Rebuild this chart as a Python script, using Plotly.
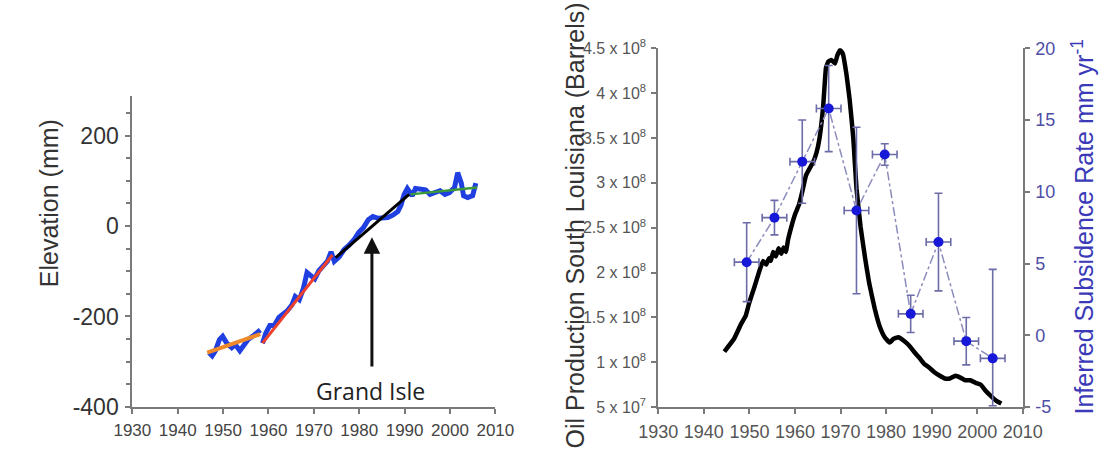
import plotly.graph_objects as go

# ---------------- Left panel: Grand Isle elevation ----------------
elev_years = [1946.9, 1947.6, 1948.3, 1949.2, 1949.9, 1950.8, 1951.9, 1952.7, 1953.7, 1954.4,
              1955.5, 1956.5, 1957.5, 1958.2, None,
              1958.7, 1959.4, 1960.3, 1961.3, 1962.3, 1963.2, 1964.1, 1965.2, 1965.9, 1966.8,
              1967.7, 1968.5, 1969.3, 1970.2, 1971.1, 1972.0, 1973.0, 1973.8, 1974.5, 1975.6,
              1976.6, 1977.7, 1978.8, 1979.9, 1980.9, 1982.0, 1983.0, 1984.2, 1985.2, 1986.3,
              1987.4, 1988.5, 1989.2, 1989.9, 1990.6, 1991.7, 1992.4, 1993.5, 1994.6, 1995.6,
              1996.7, 1997.8, 1998.9, 1999.9, 2001.0, 2001.7, 2002.5, 2003.0, 2003.9, 2005.0, 2005.7]
elev_mm = [-280, -287, -276, -251, -244, -259, -269, -262, -276, -266,
           -251, -244, -237, -230, None,
           -259, -237, -220, -220, -202, -196, -188, -174, -156, -163,
           -138, -103, -110, -117, -99, -89, -78, -57, -78, -68,
           -53, -43, -31, -14, -4, 14, 21, 17, 17, 19,
           24, 32, 46, 70, 83, 67, 83, 81, 80, 70,
           74, 78, 70, 74, 85, 118, 95, 67, 63, 67, 95]

fit1_years, fit1_mm = [1946.5, 1958.2], [-280, -239]   # orange
fit2_years, fit2_mm = [1958.7, 1974.1], [-259, -64]    # red
fit3_years, fit3_mm = [1974.8, 1991.0], [-70, 70]      # black
fit4_years, fit4_mm = [1991.3, 2006.0], [70, 85]       # green

elev_ticks = [-400, -200, 0, 200]
elev_ticktext = ["-400", "-200", "0", "200"]
year_ticks = [1930, 1940, 1950, 1960, 1970, 1980, 1990, 2000, 2010]

# ---------------- Right panel: oil production & subsidence ----------------
oil_years = [1944.5, 1946.6, 1948.1, 1949.2, 1950.0, 1951.1, 1952.2, 1953.0, 1953.7, 1954.3,
             1954.7, 1955.2, 1955.8, 1956.4, 1957.0, 1957.5, 1958.0, 1958.5, 1959.2, 1960.1,
             1960.9, 1961.6, 1962.4, 1963.1, 1963.9, 1964.7, 1965.4, 1966.2, 1966.8, 1967.3,
             1968.0, 1968.8, 1969.3, 1969.9, 1970.5, 1971.3, 1972.0, 1972.8, 1973.5, 1974.4,
             1975.4, 1976.3, 1977.5, 1978.6, 1979.7, 1980.8, 1981.6, 1982.7, 1983.9, 1985.0,
             1986.1, 1987.3, 1988.4, 1989.5, 1990.6, 1991.8, 1992.9, 1994.0, 1995.2, 1996.3,
             1997.4, 1998.5, 1999.7, 2000.8, 2001.9, 2003.1, 2004.2, 2005.3]
oil_barrels = [1.12e8, 1.26e8, 1.42e8, 1.52e8, 1.67e8, 1.84e8, 2.02e8, 2.13e8, 2.09e8, 2.16e8,
               2.13e8, 2.23e8, 2.18e8, 2.27e8, 2.21e8, 2.28e8, 2.23e8, 2.37e8, 2.51e8, 2.66e8,
               2.76e8, 2.90e8, 3.08e8, 3.15e8, 3.22e8, 3.33e8, 3.50e8, 3.86e8, 4.28e8, 4.35e8,
               4.37e8, 4.33e8, 4.42e8, 4.48e8, 4.44e8, 4.21e8, 3.93e8, 3.50e8, 2.94e8, 2.51e8,
               2.16e8, 1.88e8, 1.60e8, 1.40e8, 1.28e8, 1.22e8, 1.26e8, 1.28e8, 1.24e8, 1.19e8,
               1.12e8, 1.05e8, 0.98e8, 0.94e8, 0.89e8, 0.85e8, 0.82e8, 0.82e8, 0.85e8, 0.83e8,
               0.80e8, 0.80e8, 0.77e8, 0.75e8, 0.68e8, 0.62e8, 0.57e8, 0.54e8]

sub_years = [1949.4, 1955.5, 1961.6, 1967.4, 1973.5, 1979.7, 1985.4, 1991.5, 1997.6, 2003.4]
sub_rate = [5.1, 8.2, 12.1, 15.8, 8.7, 12.6, 1.5, 6.5, -0.4, -1.6]
sub_err_plus = [2.75, 1.2, 2.9, 3.0, 5.8, 0.75, 1.3, 3.4, 1.65, 6.2]
sub_err_minus = [2.75, 1.2, 2.9, 3.0, 5.8, 0.75, 1.3, 3.4, 1.65, 3.3]
sub_year_err = [2.7, 2.7, 2.7, 2.7, 2.7, 2.7, 2.7, 2.7, 2.7, 2.7]

oil_tickvals = [0.5e8, 1.0e8, 1.5e8, 2.0e8, 2.5e8, 3.0e8, 3.5e8, 4.0e8, 4.5e8]
oil_ticktext = ["5 x 10<sup>7</sup>", "1 x 10<sup>8</sup>", "1.5 x 10<sup>8</sup>", "2 x 10<sup>8</sup>",
                "2.5 x 10<sup>8</sup>", "3 x 10<sup>8</sup>", "3.5 x 10<sup>8</sup>",
                "4 x 10<sup>8</sup>", "4.5 x 10<sup>8</sup>"]
sub_ticks = [-5, 0, 5, 10, 15, 20]
sub_ticktext = ["-5", "0", "5", "10", "15", "20"]

FONT = "Liberation Sans, Arial, sans-serif"
AX = "#7a7a7a"
W, H = 1117, 454

fig = go.Figure()

# left panel traces
fig.add_trace(go.Scatter(x=elev_years, y=elev_mm, mode="lines", connectgaps=False,
                         line=dict(color="#1f3fe0", width=5), xaxis="x", yaxis="y", showlegend=False))
fig.add_trace(go.Scatter(x=fit1_years, y=fit1_mm, mode="lines",
                         line=dict(color="#ee8a2c", width=4), xaxis="x", yaxis="y", showlegend=False))
fig.add_trace(go.Scatter(x=fit2_years, y=fit2_mm, mode="lines",
                         line=dict(color="#f0402c", width=3), xaxis="x", yaxis="y", showlegend=False))
fig.add_trace(go.Scatter(x=fit3_years, y=fit3_mm, mode="lines",
                         line=dict(color="#000000", width=3), xaxis="x", yaxis="y", showlegend=False))
fig.add_trace(go.Scatter(x=fit4_years, y=fit4_mm, mode="lines",
                         line=dict(color="#3a9a3a", width=2.5), xaxis="x", yaxis="y", showlegend=False))

# right panel traces
fig.add_trace(go.Scatter(x=oil_years, y=oil_barrels, mode="lines",
                         line=dict(color="#000000", width=4.5, shape="spline", smoothing=0.3),
                         xaxis="x2", yaxis="y2", showlegend=False))
fig.add_trace(go.Scatter(x=sub_years, y=sub_rate, mode="lines+markers",
                         line=dict(color="#8c8cbc", width=1.5, dash="dashdot"),
                         marker=dict(color="#1818d8", size=10),
                         error_y=dict(type="data", symmetric=False, array=sub_err_plus,
                                      arrayminus=sub_err_minus, color="#6c6ca8", thickness=1.6, width=4),
                         error_x=dict(type="data", array=sub_year_err, color="#6c6ca8", thickness=1.6, width=4),
                         xaxis="x2", yaxis="y3", showlegend=False))

common_x = dict(range=[1930, 2010], tickvals=year_ticks, ticks="outside", ticklen=5, tickwidth=1.5,
                tickcolor=AX, showline=True, linecolor=AX, linewidth=2, showgrid=False, zeroline=False,
                ticklabelstandoff=2)

fig.update_layout(
    width=W, height=H,
    margin=dict(l=0, r=0, t=0, b=0),
    paper_bgcolor="white", plot_bgcolor="white",
    xaxis=dict(domain=[116.5 / W, 493 / W], anchor="y",
               tickfont=dict(family=FONT, size=17, color="#444"), **common_x),
    yaxis=dict(domain=[1 - 418 / H, 1 - 90 / H], anchor="x", range=[-400, 287],
               tickvals=elev_ticks, ticktext=elev_ticktext, ticks="outside", ticklen=5, tickwidth=1.5,
               tickcolor=AX,
               minor=dict(dtick=50, ticks="outside", ticklen=4, tickcolor=AX, tickwidth=1.5),
               showline=True, linecolor=AX, linewidth=2, showgrid=False, zeroline=False,
               tickfont=dict(family=FONT, size=23, color="#333"), ticklabelstandoff=2),
    xaxis2=dict(domain=[662 / W, 1040 / W], anchor="y2",
                tickfont=dict(family=FONT, size=18, color="#555"), **common_x),
    yaxis2=dict(domain=[1 - 418.3 / H, 1 - 39.3 / H], anchor="x2", range=[0.5e8, 4.5e8],
                tickvals=oil_tickvals, ticktext=oil_ticktext, ticks="outside", ticklen=5, tickwidth=1.5,
                tickcolor=AX, showline=True, linecolor=AX, linewidth=2, showgrid=False, zeroline=False,
                tickfont=dict(family=FONT, size=16, color="#555"), ticklabelstandoff=2),
    yaxis3=dict(overlaying="y2", anchor="x2", side="right", range=[-5, 20], tickvals=sub_ticks,
                ticktext=sub_ticktext,
                ticks="outside", ticklen=5, tickwidth=1.5, tickcolor=AX, showline=True, linecolor=AX,
                linewidth=2, showgrid=False, zeroline=False,
                tickfont=dict(family=FONT, size=18, color="#4e4ea8"), ticklabelstandoff=2),
)

# axis titles (as annotations for exact placement)
fig.add_annotation(text="Elevation (mm)", x=30 / W, y=1 - 203 / H, xref="paper", yref="paper",
                   textangle=-90, showarrow=False, font=dict(family=FONT, size=25, color="#333"),
                   xanchor="center", yanchor="middle")
fig.add_annotation(text="Oil Production South Louisiana (Barrels)", x=576 / W, y=1 - 226 / H,
                   xref="paper", yref="paper", textangle=-90, showarrow=False,
                   font=dict(family=FONT, size=25, color="#333"), xanchor="center", yanchor="middle")
fig.add_annotation(text="Inferred Subsidence Rate mm yr<sup>-1</sup>", x=1102 / W, y=1 - 228 / H,
                   xref="paper", yref="paper", textangle=-90, showarrow=False,
                   font=dict(family=FONT, size=25, color="#3a3ab8"), xanchor="center", yanchor="middle")

# Grand Isle label and arrow
fig.add_annotation(text="Grand Isle", x=1982.5, y=-364, xref="x", yref="y", showarrow=False,
                   font=dict(family="Open Sans, sans-serif", size=23, color="#222"))
fig.add_annotation(text="", x=1982.8, y=-25, ax=1982.8, ay=-314, xref="x", yref="y",
                   axref="x", ayref="y", showarrow=True, arrowhead=2, arrowsize=1.1,
                   arrowwidth=3, arrowcolor="#111")

fig.write_html("out.html")
